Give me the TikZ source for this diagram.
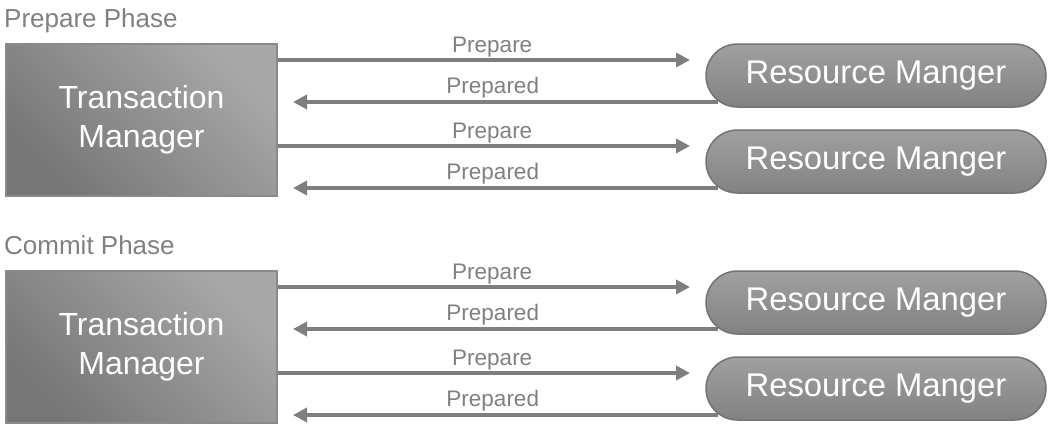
\documentclass[tikz,border=0pt]{standalone}
\usepackage{fontspec}
\setmainfont{Liberation Sans}
\usetikzlibrary{arrows.meta,calc,shapes.misc}
\definecolor{txtgray}{HTML}{808080}
\definecolor{arrgray}{HTML}{7E7E7E}
\definecolor{tmdark}{HTML}{767676}
\definecolor{tmlight}{HTML}{A8A8A8}
\definecolor{tmborder}{HTML}{8A8A8A}
\definecolor{rmtop}{HTML}{A0A0A0}
\definecolor{rmbot}{HTML}{828282}
\definecolor{rmborder}{HTML}{747474}
\tikzset{
  tmbox/.style={draw=tmborder, line width=2pt, top color=tmlight, bottom color=tmdark, shading angle=-45,
    minimum width=271pt, minimum height=152pt, inner sep=0pt, text=white,
    align=center, font=\fontsize{32}{39}\selectfont},
  rmbox/.style={rounded rectangle, draw=rmborder, line width=1.5pt, top color=rmtop, bottom color=rmbot,
    minimum width=340pt, minimum height=63pt, inner sep=0pt, text=white,
    font=\fontsize{32.8}{36}\selectfont},
  arr/.style={draw=arrgray, line width=4.5pt, -{Triangle[length=14pt,width=14pt]}},
  lbl/.style={text=txtgray, font=\fontsize{22.5}{26}\selectfont, anchor=base},
  phase/.style={text=txtgray, font=\fontsize{26}{30}\selectfont, anchor=base west, inner sep=0pt}
}
\begin{document}
\begin{tikzpicture}[x=1pt,y=-1pt]
\useasboundingbox (0,0) rectangle (1052,432);
\foreach \g/\off/\ttl in {a/0/Prepare Phase, b/227/Commit Phase}{
  \node[phase] (ph\g) at (4,27+\off) {\ttl};
  \node[tmbox] (tm\g) at (141.5,120+\off) {Transaction\\Manager};
  \coordinate (rc\g1) at (876,75.5+\off);
  \coordinate (rc\g2) at (876,161.5+\off);
  \foreach \i in {1,2}{
    \draw[arr] ($(tm\g.east |- rc\g\i)+(0,-15.5)$) -- ($(rc\g\i)+(-186,-15.5)$)
      node[lbl, pos=0.52, yshift=8pt] {Prepare};
    \draw[arr] ($(rc\g\i)+(-158,26.5)$) -- ($(tm\g.east |- rc\g\i)+(15,26.5)$)
      node[lbl, pos=0.53, yshift=9pt] {Prepared};
    \node[rmbox] (rm\g\i) at (rc\g\i) {Resource Manger};
  }
}
\end{tikzpicture}
\end{document}
